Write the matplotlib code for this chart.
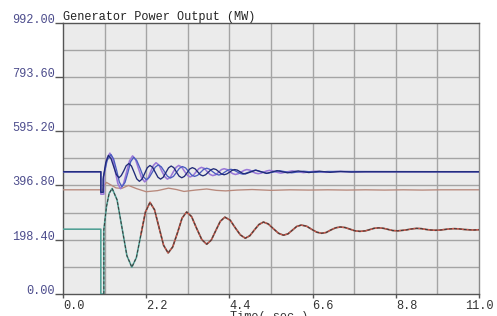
import matplotlib
matplotlib.use("Agg")
import matplotlib.pyplot as plt

# ---------------- data ----------------
title = "Generator Power Output (MW)"
xlabel = "Time( sec )"
x_ticks = [0.0, 2.2, 4.4, 6.6, 8.8, 11.0]
x_grid = [1.1, 3.3, 5.5, 7.7, 9.9]
y_ticks = [0.0, 198.4, 396.8, 595.2, 793.6, 992.0]
y_grid = [99.2, 297.6, 496.0, 694.4, 892.8]

# lower oscillating generator (teal / red / dark traces)
gen_t = [0, 1.0, 1.0, 1.08, 1.08,
         1.15, 1.22, 1.30,
         1.43, 1.56, 1.69, 1.82,
         1.94, 2.06, 2.18, 2.30,
         2.42, 2.54, 2.66, 2.78,
         2.90, 3.03, 3.15, 3.27,
         3.40, 3.53, 3.67, 3.80,
         3.92, 4.04, 4.16, 4.28,
         4.42, 4.55, 4.69, 4.82,
         4.94, 5.06, 5.18, 5.30,
         5.43, 5.56, 5.70, 5.83,
         5.95, 6.07, 6.18, 6.30,
         6.44, 6.57, 6.71, 6.84,
         6.96, 7.08, 7.21, 7.33,
         7.46, 7.59, 7.72, 7.85,
         8.0, 8.1, 8.22, 8.35,
         8.48, 8.6, 8.72, 8.85,
         9.0, 9.1, 9.22, 9.35,
         9.48, 9.6, 9.72, 9.85,
         9.98, 10.1, 10.22, 10.35,
         10.48, 10.6, 10.72, 10.85, 11.0]
gen_v = [237, 237, 0, 0, 235,
         320, 368, 386,
         344, 242, 140, 98,
         133, 217, 300, 335,
         308, 243, 178, 150,
         172, 225, 278, 300,
         283, 241, 199, 182,
         197, 232, 266, 281,
         270, 243, 216, 204,
         213, 234, 254, 263,
         256, 239, 222, 215,
         220, 234, 247, 252,
         248, 237, 226, 222,
         225, 234, 242, 245,
         243, 237, 231, 229,
         231, 235, 240, 242,
         240, 236, 232, 231,
         233, 235, 238, 240,
         239, 236, 234, 233,
         234, 236, 238, 239,
         238, 236, 235, 234, 235]

# brown generator
brown_t = [0, 1.0, 1.04, 1.08, 1.15, 1.25, 1.4, 1.55, 1.73, 1.95, 2.2, 2.5, 2.79, 3.0, 3.2, 3.5,
           3.8, 4.05, 4.3, 4.6, 5.0, 5.5, 6.0, 6.5, 7.0, 7.5, 8.0, 8.5, 9.0, 9.5, 10.0, 11.0]
brown_v = [381, 381, 378, 395, 408, 400, 388, 386, 397, 385, 374, 378, 387, 382, 375, 380,
           384, 379, 377, 380, 382, 379, 381, 380, 381, 380, 381, 380, 381, 380, 381, 381]

# purple generator
purple_t = [0, 1.0, 1.0, 1.08, 1.08, 1.16, 1.24,
            1.31, 1.38, 1.45, 1.52, 1.60, 1.68, 1.76, 1.84, 1.92, 2.00, 2.08, 2.16,
            2.24, 2.31, 2.39, 2.46, 2.54, 2.61, 2.69, 2.76, 2.84, 2.91, 2.99, 3.06,
            3.14, 3.21, 3.29, 3.36, 3.44, 3.51, 3.59, 3.66, 3.74, 3.81, 3.89, 3.96,
            4.04, 4.11, 4.19, 4.26, 4.34, 4.41, 4.49, 4.56, 4.64, 4.71, 4.79, 4.86,
            4.94, 5.01, 5.09, 5.16, 5.24, 5.31, 5.39, 5.46, 5.54, 5.61, 5.69, 5.76,
            5.91, 6.06, 6.21, 6.36, 6.66, 6.96, 7.26, 7.6, 11.0]
purple_v = [447, 447, 365, 365, 430, 495, 515,
            496, 450, 404, 385, 403, 445, 487, 505, 491, 457, 424, 410,
            420, 445, 470, 480, 471, 450, 429, 420, 427, 445, 463, 470,
            464, 449, 434, 428, 433, 445, 458, 463, 459, 448, 437, 433,
            436, 445, 455, 458, 455, 447, 440, 437, 440, 446, 452, 455,
            453, 447, 442, 440, 442, 446, 450, 452, 450, 447, 444, 442,
            446, 450, 447, 444, 449, 445, 448, 447, 447]

# navy generator
navy_t = [0, 1.0, 1.0, 1.06, 1.06, 1.13, 1.20,
          1.27, 1.34, 1.41, 1.48, 1.54, 1.61, 1.67, 1.74, 1.81, 1.88, 1.95, 2.02,
          2.09, 2.16, 2.23, 2.30, 2.37, 2.44, 2.51, 2.58, 2.65, 2.72, 2.79, 2.86,
          2.93, 3.00, 3.07, 3.14, 3.21, 3.28, 3.35, 3.42, 3.49, 3.56, 3.63, 3.70,
          3.77, 3.84, 3.91, 3.98, 4.05, 4.12, 4.19, 4.26, 4.33, 4.40, 4.47, 4.54,
          4.61, 4.68, 4.75, 4.82, 4.96, 5.10, 5.24, 5.38, 5.52, 5.66, 5.80, 5.94,
          6.22, 6.5, 6.78, 7.06, 7.34, 7.62, 8.0, 11.0]
navy_v = [447, 447, 372, 372, 420, 480, 507,
          495, 466, 437, 425, 433, 451, 469, 477, 468, 445, 421, 412,
          420, 441, 462, 470, 463, 445, 427, 420, 427, 444, 461, 468,
          462, 446, 431, 425, 430, 443, 457, 462, 458, 447, 436, 432,
          436, 445, 454, 458, 455, 447, 439, 436, 439, 445, 452, 455,
          453, 447, 441, 439, 446, 453, 447, 441, 446, 451, 447, 443,
          450, 444, 449, 445, 448, 446, 447, 447]

# blue generator
blue_t = [0, 1.0, 1.0, 1.07, 1.07, 1.17, 1.27,
          1.34, 1.42, 1.49, 1.56, 1.64, 1.72, 1.79, 1.87, 1.95, 2.04, 2.12, 2.20,
          2.28, 2.36, 2.44, 2.52, 2.60, 2.68, 2.76, 2.84, 2.92, 3.00, 3.08, 3.16,
          3.24, 3.32, 3.40, 3.48, 3.56, 3.64, 3.72, 3.80, 3.88, 3.96, 4.04, 4.12,
          4.20, 4.28, 4.36, 4.44, 4.52, 4.60, 4.68, 4.76, 4.92, 5.08, 5.24, 5.40,
          5.56, 5.72, 5.88, 6.04, 6.36, 6.68, 7.0, 11.0]
blue_v = [447, 447, 372, 372, 430, 490, 510,
          493, 451, 409, 392, 408, 446, 484, 500, 488, 459, 430, 418,
          426, 445, 464, 472, 465, 448, 431, 424, 430, 445, 460, 466,
          461, 448, 435, 430, 434, 445, 456, 460, 456, 447, 439, 435,
          438, 446, 453, 456, 453, 447, 441, 438, 446, 453, 447, 441,
          446, 451, 447, 443, 449, 445, 448, 447]

# ---------------- plot ----------------
W, H = 497, 316
fig = plt.figure(figsize=(W / 100, H / 100), dpi=100)
fig.patch.set_facecolor("white")
ax = fig.add_axes([63 / W, 1 - 294 / H, (479 - 63) / W, (294 - 22.7) / H])
ax.set_facecolor("#ebebeb")

mono = "Liberation Mono"

ax.set_xlim(0, 11.0)
ax.set_ylim(0, 992.0)

# grid
for gx in x_ticks[1:-1] + x_grid:
    ax.axvline(gx, color="#a4a4a4", lw=1.0, zorder=1)
for gy in y_ticks[1:-1] + y_grid:
    ax.axhline(gy, color="#a4a4a4", lw=1.0, zorder=1)

def trim(t, v):
    n = min(len(t), len(v))
    return t[:n], v[:n]

lw = 0.95
t, v = trim(brown_t, brown_v)
ax.plot(t, v, color="#b8897c", lw=lw, zorder=3)
t, v = trim(gen_t, gen_v)
ax.plot(t, v, color="#4f9f94", lw=lw + 0.2, zorder=3)
k = gen_t.index(2.06)
ax.plot(t[k:], v[k:], color="#d2564a", lw=lw + 0.2, zorder=4)
ax.plot(t[3:], v[3:], color="#3a3a3a", lw=0.7, ls=(0, (3, 2)), zorder=5)
t, v = trim(purple_t, purple_v)
ax.plot(t, v, color="#9a78d8", lw=lw + 0.2, zorder=4)
t, v = trim(blue_t, blue_v)
ax.plot(t, v, color="#4a5cc0", lw=lw, zorder=5)
t, v = trim(navy_t, navy_v)
ax.plot(t, v, color="#1f2a78", lw=lw, zorder=6)

for s in ax.spines.values():
    s.set_color("#8a8a8a")
    s.set_linewidth(1.0)
ax.spines["top"].set_color("#555555")
ax.spines["left"].set_color("#555555")
ax.spines["bottom"].set_color("#555555")

ax.set_xticks(x_ticks)
ax.set_xticklabels(["%.1f" % x for x in x_ticks], fontfamily=mono, fontsize=8.6, color="#333333")
ax.set_yticks(y_ticks)
ax.set_yticklabels(["%.2f" % y for y in y_ticks], fontfamily=mono, fontsize=8.6, color="#4c4c8c")
ax.tick_params(axis="y", direction="out", length=6, width=1, color="#555555", pad=0)
ax.tick_params(axis="x", direction="out", length=3, width=1, color="#555555", pad=1)
for lab in ax.get_yticklabels():
    lab.set_verticalalignment("baseline")
xl = ax.get_xticklabels()
for lab in xl[:-1]:
    lab.set_horizontalalignment("left")
xl[-1].set_horizontalalignment("center")

ax.text(0.0, 1.0, title, transform=ax.transAxes, ha="left", va="bottom",
        fontfamily=mono, fontsize=8.6, color="#222222")
fig.text(230 / W, 1 - 311 / H, xlabel, ha="left", va="top",
         fontfamily=mono, fontsize=8.6, color="#333333")

fig.savefig("out.png", dpi=100, facecolor="white")
